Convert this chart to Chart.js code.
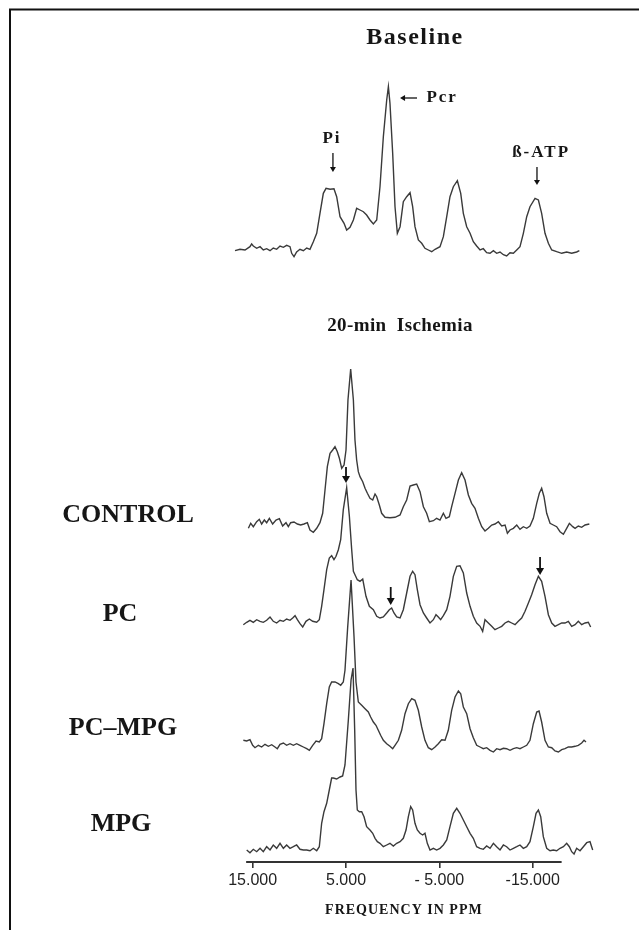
<!DOCTYPE html>
<html>
<head>
<meta charset="utf-8">
<script src="https://cdn.jsdelivr.net/npm/chart.js@4.4.0/dist/chart.umd.min.js"></script>
<style>
  html, body { margin: 0; padding: 0; background: #fff; }
  #wrap { position: relative; width: 639px; height: 930px; }
</style>
</head>
<body>
<div id="wrap"><canvas id="spec" width="639" height="930"></canvas></div>
<script>
// 31P spectra, [ppm, relative intensity above the trace's own baseline]
const baselineTrace = [[16.89,-0.7],[16.36,0.7],[15.82,0],[15.29,3.3],[15.11,6],[14.93,4],[14.57,1.7],[14.21,3.3],[13.86,0],[13.5,1.3],[13.14,-0.7],[12.79,2],[12.43,0.7],[12.07,4],[11.71,2.7],[11.36,4.7],[11.0,3.3],[10.82,-3.3],[10.57,-6.7],[10.29,-2],[9.93,0.7],[9.57,-0.7],[9.21,2],[8.86,0.7],[8.5,8.3],[8.14,16.7],[7.79,36.7],[7.43,56.7],[7.14,61.7],[6.71,60.7],[6.29,61.3],[6.0,53.3],[5.64,33.3],[5.21,26.7],[4.93,20],[4.57,22.7],[4.21,30],[3.86,41.7],[3.5,40],[3.14,38.3],[2.79,35],[2.43,30],[2.07,26],[1.71,30],[1.36,63.3],[1.0,113.3],[0.64,150],[0.46,163.3],[0.29,146.7],[0.0,96.7],[-0.25,43.3],[-0.5,16.7],[-0.79,23.3],[-1.14,48.3],[-1.5,53.3],[-1.86,57.3],[-2.14,43.3],[-2.39,23.3],[-2.75,10],[-3.11,6.7],[-3.46,1.7],[-3.82,0],[-4.18,-1.7],[-4.54,0.7],[-5.07,3.3],[-5.43,13.3],[-5.79,33.3],[-6.14,53.3],[-6.5,63.3],[-6.93,69.3],[-7.29,56.7],[-7.57,36.7],[-7.93,23.3],[-8.29,16.7],[-8.64,8.3],[-9.0,4],[-9.36,0],[-9.71,1.3],[-10.07,-2.7],[-10.43,-3.3],[-10.79,-0.7],[-11.14,-3.3],[-11.5,-2],[-11.86,-4.7],[-12.21,-6],[-12.57,-2.7],[-12.93,-3.3],[-13.29,0],[-13.64,3.3],[-14.0,16.7],[-14.36,33.3],[-14.71,43.3],[-15.25,51.7],[-15.61,50],[-15.96,36.7],[-16.32,16.7],[-16.68,6.7],[-17.04,0],[-17.57,-1.7],[-18.11,-3.3],[-18.64,-2],[-19.18,-3.3],[-19.71,-2],[-20.0,-0.7]];

const controlTrace = [[15.46,-3.3],[15.21,1.7],[14.93,-1.7],[14.57,3.3],[14.29,5.7],[14.04,1],[13.75,5],[13.5,2.3],[13.21,6.7],[12.86,1],[12.5,5],[12.14,6.3],[11.79,-1],[11.43,2.3],[11.18,-1.7],[10.93,2.3],[10.57,3],[10.21,1],[9.86,0],[9.5,1],[9.14,2.3],[8.86,-5],[8.5,-7.3],[8.14,-3.3],[7.79,2.3],[7.5,11.7],[7.25,35],[7.0,58.3],[6.71,71.7],[6.43,75],[6.18,78.3],[5.93,73.3],[5.71,66.7],[5.46,56.7],[5.21,60],[5.0,75],[4.79,125],[4.5,156],[4.21,125],[4.04,85],[3.86,65],[3.68,53.3],[3.5,48.3],[3.21,43.3],[2.96,36.7],[2.71,31.7],[2.43,26.7],[2.14,25],[1.89,31],[1.71,28.3],[1.43,20],[1.18,11.7],[0.82,7.7],[0.29,7.3],[-0.25,7.7],[-0.79,10],[-1.14,18.3],[-1.5,25],[-1.86,39],[-2.21,40],[-2.57,41],[-2.93,33.3],[-3.29,18.3],[-3.64,11.7],[-3.93,3.3],[-4.36,4.3],[-4.71,6.7],[-5.07,5],[-5.43,11.7],[-5.71,6.7],[-6.07,8.3],[-6.32,18.3],[-6.68,31.7],[-7.04,45],[-7.39,52.3],[-7.75,45],[-8.11,30],[-8.46,21.7],[-8.82,16.7],[-9.18,6.7],[-9.54,-1.7],[-9.89,-6],[-10.25,-3.3],[-10.61,0],[-10.96,1],[-11.32,3.3],[-11.68,-1],[-12.04,0],[-12.29,-8.3],[-12.57,-5],[-12.93,-3.3],[-13.29,0],[-13.64,-4.3],[-14.0,-1.7],[-14.36,-3.3],[-14.71,-1],[-15.07,6.7],[-15.43,21.7],[-15.71,31.7],[-15.96,36.7],[-16.21,28.3],[-16.5,11.7],[-16.86,1.7],[-17.21,0],[-17.57,-1.7],[-17.93,-6.7],[-18.29,-9.3],[-18.64,-3.3],[-18.93,1.7],[-19.29,-1.7],[-19.54,-3.3],[-19.89,-1],[-20.25,-2.3],[-20.61,0],[-21.07,1]];

const pcTrace = [[16.0,-1.7],[15.64,0.7],[15.29,2.7],[14.93,0.7],[14.57,3.3],[14.21,1.7],[13.86,0.7],[13.5,2.7],[13.14,6],[12.79,1.7],[12.43,0],[12.07,2.7],[11.71,1.7],[11.36,4],[11.0,2.7],[10.71,5],[10.46,7.3],[10.21,3.3],[9.93,-0.7],[9.64,-4],[9.29,1.7],[8.93,4],[8.57,1.7],[8.14,0.7],[7.86,3.3],[7.61,16.7],[7.36,33.3],[7.07,53.3],[6.79,65],[6.54,67.3],[6.29,63.3],[6.07,66.7],[5.82,73.3],[5.57,83.3],[5.29,113.3],[4.93,135.3],[4.64,106.7],[4.39,73.3],[4.21,51.7],[4.04,48.3],[3.79,43.3],[3.5,41.7],[3.21,44],[2.86,26.7],[2.5,16.7],[2.07,13.3],[1.71,6.7],[1.36,5],[1.0,6],[0.64,10],[0.36,13.3],[0.11,15],[-0.14,10],[-0.43,6],[-0.79,5],[-1.14,13.3],[-1.5,30],[-1.86,46.7],[-2.14,51.7],[-2.39,48.3],[-2.64,33.3],[-2.93,18.3],[-3.29,10],[-3.64,5],[-4.0,0],[-4.36,3.3],[-4.64,8.3],[-4.89,6],[-5.14,3.3],[-5.43,7.3],[-5.79,13.3],[-6.14,26.7],[-6.5,46.7],[-6.86,56.7],[-7.21,57.3],[-7.57,50],[-7.93,30],[-8.29,16.7],[-8.64,6.7],[-9.0,0],[-9.36,-3.3],[-9.64,-8.3],[-9.89,3.3],[-10.25,0],[-10.61,-3.3],[-10.96,-6.7],[-11.32,-5],[-11.68,-3.3],[-12.04,0],[-12.39,1.7],[-12.75,0],[-13.11,-1.7],[-13.46,1.7],[-13.82,5],[-14.18,11.7],[-14.54,20],[-14.89,28.3],[-15.25,38.3],[-15.61,46.7],[-15.96,41.7],[-16.32,26.7],[-16.68,8.3],[-17.04,0],[-17.39,-3.3],[-17.75,-1.7],[-18.11,0],[-18.46,0],[-18.82,1.7],[-19.18,-3.3],[-19.54,-1.7],[-19.89,1.7],[-20.25,-1.7],[-20.61,0],[-20.96,0.7],[-21.21,-4]];

const pcMpgTrace = [[16.0,6.7],[15.64,6],[15.29,7.3],[15.0,1.7],[14.75,-0.7],[14.39,1.7],[14.04,0],[13.68,2.7],[13.32,0.7],[12.96,2.3],[12.61,0],[12.36,-1.7],[12.07,2.7],[11.71,4],[11.36,1.7],[11.0,3.3],[10.64,1.7],[10.29,3.3],[9.93,1.7],[9.57,0],[9.21,-1.7],[8.93,-3.3],[8.57,1.7],[8.21,6],[7.86,5],[7.61,8.3],[7.36,23.3],[7.07,43.3],[6.79,60],[6.54,65],[6.18,65],[5.82,63.3],[5.57,61.7],[5.29,65],[5.11,76.7],[4.82,120],[4.46,167],[4.14,110],[3.93,65],[3.68,45],[3.32,41.7],[2.96,38.3],[2.61,35],[2.36,30],[2.07,25],[1.79,21.7],[1.54,16.7],[1.29,11.7],[1.0,6.7],[0.64,3.3],[0.29,0.7],[0.0,-1.7],[-0.25,1.7],[-0.61,6.7],[-0.96,16.7],[-1.32,33.3],[-1.68,43.3],[-2.04,48.3],[-2.39,46.7],[-2.75,36.7],[-3.11,20],[-3.46,6.7],[-3.82,-0.7],[-4.18,-2.7],[-4.54,0],[-4.89,3.3],[-5.25,7.3],[-5.61,6.7],[-5.96,16.7],[-6.32,36.7],[-6.68,50],[-7.04,56],[-7.29,53.3],[-7.57,40],[-7.93,33.3],[-8.29,18.3],[-8.64,9.3],[-9.0,1.7],[-9.36,0],[-9.71,-1.7],[-10.07,-0.7],[-10.43,-3.3],[-10.79,-5],[-11.14,-1.7],[-11.5,-2.7],[-11.86,-1.3],[-12.21,-1.7],[-12.57,-3.3],[-12.93,-1.7],[-13.29,-0.7],[-13.64,-1.7],[-14.0,0],[-14.36,1.7],[-14.71,6.7],[-15.07,23.3],[-15.43,35],[-15.68,36],[-15.96,25],[-16.32,6.7],[-16.68,0],[-17.04,-0.7],[-17.39,-4],[-17.75,-5],[-18.11,-2.7],[-18.46,-1.7],[-18.82,0],[-19.18,0],[-19.54,0.7],[-19.89,1.7],[-20.25,4],[-20.5,6.7],[-20.71,5]];

const mpgTrace = [[15.64,0],[15.29,-2.7],[14.93,0.7],[14.57,-1.7],[14.21,1.7],[13.86,-1.7],[13.5,3.3],[13.14,0],[12.79,5],[12.43,1.7],[12.07,6.7],[11.71,1.7],[11.36,5],[11.0,1.7],[10.64,3.3],[10.29,5],[9.93,0.7],[9.57,0],[9.21,0],[8.86,-0.7],[8.5,1.7],[8.14,-0.7],[7.86,3.3],[7.61,26.7],[7.36,38.3],[7.07,46.7],[6.79,60],[6.54,72],[6.36,72],[6.0,71],[5.64,73],[5.36,74],[5.11,85],[4.75,130],[4.46,170],[4.25,182],[4.07,120],[3.93,60],[3.79,40],[3.57,38.3],[3.32,38.3],[3.07,33.3],[2.79,23.3],[2.43,20],[2.14,16.7],[1.89,11.7],[1.64,8.3],[1.36,6.7],[1.0,3.3],[0.64,5],[0.29,6.7],[-0.07,4],[-0.43,6.7],[-0.79,8.3],[-1.14,11.7],[-1.43,20],[-1.68,33.3],[-1.93,43.3],[-2.14,40],[-2.39,26.7],[-2.64,20],[-2.93,16.7],[-3.21,15],[-3.46,16.7],[-3.71,6.7],[-4.0,0],[-4.36,1.7],[-4.71,0],[-5.07,1.7],[-5.43,5],[-5.79,10],[-6.14,23.3],[-6.5,36.7],[-6.86,41.7],[-7.21,36.7],[-7.57,30],[-7.93,23.3],[-8.29,16.7],[-8.64,11.7],[-9.0,3.3],[-9.36,1.7],[-9.71,0.7],[-10.07,4],[-10.43,1.7],[-10.79,6.7],[-11.14,3.3],[-11.5,0],[-11.86,5],[-12.21,3.3],[-12.57,0],[-12.93,1.7],[-13.29,3.3],[-13.64,5],[-14.0,1.7],[-14.36,3.3],[-14.71,8.3],[-15.07,23.3],[-15.36,36.7],[-15.61,40],[-15.86,33.3],[-16.14,13.3],[-16.5,1.7],[-16.86,-0.7],[-17.21,0],[-17.57,-0.7],[-17.93,1.7],[-18.29,3.3],[-18.64,6.7],[-18.93,3.3],[-19.18,-1.7],[-19.43,-4],[-19.71,1.7],[-20.07,-0.7],[-20.43,3.3],[-20.79,7.3],[-21.14,8.3],[-21.43,0]];

const traceNames = ['Baseline', 'CONTROL', 'PC', 'PC\u2013MPG', 'MPG'];
const tickValues = [15, 5, -5, -15];
const tickLabels = ['15.000', '5.000', '- 5.000', '-15.000'];

// layout: pixel row where each trace's zero line sits, plot bottom = axis line
const PLOT_BOTTOM = 862;
const traceBaseY = [250, 525, 623, 747, 850];
const axisSpan = [15.7, -18.1];

const allTraces = [baselineTrace, controlTrace, pcTrace, pcMpgTrace, mpgTrace];

// arrows: trace index, ppm, intensity from -> to (vertical) or ppm from -> to (horizontal)
const arrows = [
  { t: 0, x: 6.4, y1: 97, y2: 78, heavy: false },
  { t: 0, x1: -0.79, x2: -2.61, y: 152, heavy: false },
  { t: 0, x: -15.46, y1: 83, y2: 65, heavy: false },
  { t: 2, x: 5.0, y1: 156, y2: 140, heavy: true },
  { t: 2, x: 0.21, y1: 36, y2: 18, heavy: true },
  { t: 2, x: -15.79, y1: 66, y2: 48, heavy: true }
];
const peakNotes = [
  { t: 0, x: 6.5, y: 111, text: 'Pi' },
  { t: 0, x: -5.3, y: 152, text: 'Pcr' },
  { t: 0, x: -15.9, y: 97, text: '\u00DF-ATP' }
];

const serif = '"Liberation Serif", "Times New Roman", serif';

const decoPlugin = {
  id: 'deco',
  beforeDraw(chart) {
    const ctx = chart.ctx;
    ctx.save();
    ctx.strokeStyle = '#111';
    ctx.lineWidth = 2;
    ctx.beginPath();
    ctx.moveTo(10, 930);
    ctx.lineTo(10, 9.5);
    ctx.lineTo(639, 9.5);
    ctx.stroke();
    ctx.restore();
  },
  afterDraw(chart) {
    const ctx = chart.ctx;
    const xs = chart.scales.x;
    ctx.save();
    // partial axis line
    ctx.strokeStyle = '#333';
    ctx.lineWidth = 1.8;
    ctx.beginPath();
    ctx.moveTo(xs.getPixelForValue(axisSpan[0]), chart.chartArea.bottom);
    ctx.lineTo(xs.getPixelForValue(axisSpan[1]), chart.chartArea.bottom);
    ctx.stroke();

    // arrows
    ctx.fillStyle = '#111';
    ctx.strokeStyle = '#111';
    arrows.forEach(a => {
      const ys = chart.scales['y' + a.t];
      const hw = a.heavy ? 4 : 3, hl = a.heavy ? 7 : 5;
      ctx.lineWidth = a.heavy ? 1.8 : 1.3;
      if (a.x1 !== undefined) {
        // horizontal arrow pointing from x1 toward x2 (left in pixel space)
        const pTip = xs.getPixelForValue(a.x1), pTail = xs.getPixelForValue(a.x2);
        const py = ys.getPixelForValue(a.y);
        ctx.beginPath(); ctx.moveTo(pTail, py); ctx.lineTo(pTip + 2, py); ctx.stroke();
        ctx.beginPath(); ctx.moveTo(pTip, py); ctx.lineTo(pTip + hl, py - hw); ctx.lineTo(pTip + hl, py + hw); ctx.closePath(); ctx.fill();
      } else {
        const px = xs.getPixelForValue(a.x);
        const py1 = ys.getPixelForValue(a.y1), py2 = ys.getPixelForValue(a.y2);
        ctx.beginPath(); ctx.moveTo(px, py1); ctx.lineTo(px, py2 - 2); ctx.stroke();
        ctx.beginPath(); ctx.moveTo(px, py2); ctx.lineTo(px - hw, py2 - hl); ctx.lineTo(px + hw, py2 - hl); ctx.closePath(); ctx.fill();
      }
    });

    ctx.textAlign = 'center';
    ctx.textBaseline = 'middle';
    ctx.fillStyle = '#161616';

    // peak notes on baseline spectrum
    ctx.font = 'bold 17px ' + serif;
    ctx.letterSpacing = '2px';
    peakNotes.forEach(n => {
      const ys = chart.scales['y' + n.t];
      ctx.fillText(n.text, xs.getPixelForValue(n.x), ys.getPixelForValue(n.y));
    });

    // section titles
    ctx.font = 'bold 24px ' + serif;
    ctx.letterSpacing = '1.5px';
    ctx.fillText('Baseline', 415, 38);
    ctx.font = 'bold 19px ' + serif;
    ctx.letterSpacing = '0.4px';
    ctx.fillText('20-min  Ischemia', 400, 326);

    // group labels
    ctx.font = 'bold 26px ' + serif;
    ctx.letterSpacing = '0px';
    const groupPos = [null, [128, 515], [120, 614], [123, 728], [121, 824]];
    for (let i = 1; i < traceNames.length; i++) {
      ctx.fillText(traceNames[i], groupPos[i][0], groupPos[i][1]);
    }

    // axis title
    ctx.font = 'bold 14px ' + serif;
    ctx.letterSpacing = '1px';
    const midX = (xs.getPixelForValue(axisSpan[0]) + xs.getPixelForValue(axisSpan[1])) / 2;
    ctx.fillText('FREQUENCY IN PPM', midX, 910);
    ctx.restore();
  }
};

const yScales = {};
traceBaseY.forEach((b, i) => {
  yScales['y' + i] = { display: false, min: b - PLOT_BOTTOM, max: b };
});

const datasets = allTraces.map((tr, i) => ({
  label: traceNames[i],
  data: tr.map(p => ({ x: p[0], y: p[1] })),
  yAxisID: 'y' + i,
  borderColor: '#3a3a3a',
  borderWidth: 1.4,
  pointRadius: 0,
  tension: 0,
  fill: false
}));

new Chart(document.getElementById('spec'), {
  type: 'line',
  data: { datasets },
  options: {
    responsive: false,
    animation: false,
    layout: { padding: { left: 0, right: 0, top: 0, bottom: 930 - PLOT_BOTTOM - 31.2 } },
    plugins: { legend: { display: false }, tooltip: { enabled: false } },
    scales: Object.assign({
      x: {
        type: 'linear',
        reverse: true,
        min: -26.39,
        max: 42.07,
        border: { display: false },
        grid: { drawOnChartArea: false, drawTicks: true, tickLength: 6, color: '#333', lineWidth: 1.6 },
        afterBuildTicks: s => { s.ticks = tickValues.map(v => ({ value: v })); },
        ticks: {
          autoSkip: false,
          maxRotation: 0,
          padding: 3,
          color: '#222',
          font: { family: '"Liberation Sans", Arial, sans-serif', size: 16 },
          callback: v => tickLabels[tickValues.indexOf(v)]
        }
      }
    }, yScales)
  },
  plugins: [decoPlugin]
});
</script>
</body>
</html>
